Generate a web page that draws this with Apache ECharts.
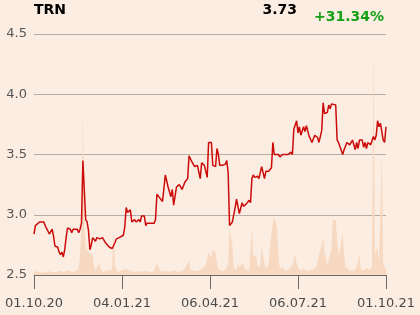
<!DOCTYPE html>
<html><head><meta charset="utf-8">
<script src="https://cdn.jsdelivr.net/npm/echarts@6/dist/echarts.min.js"></script>
<style>html,body{margin:0;padding:0;background:#fcede2}#c{width:420px;height:315px}</style>
</head><body><div id="c"></div>
<script>
// Trading-day index (0..252) and closing price
const priceDays = [0,1,4,7,8,9,11,12,13,14,15,17,18,19,20,21,22,23,24,26,27,28,29,31,32,33,34,35,36,37,38,39,40,41,42,44,45,47,49,51,52,54,56,57,58,59,61,62,64,65,66,67,69,70,72,73,75,76,77,79,80,81,83,86,87,88,90,92,94,96,98,99,100,102,104,106,108,110,111,113,115,117,119,120,122,124,125,127,128,130,131,132,133,135,137,138,139,140,142,144,145,147,149,150,152,154,155,156,157,158,160,161,163,164,165,166,168,170,171,172,175,176,178,180,182,184,185,186,188,189,190,191,193,194,195,197,199,201,203,204,206,207,208,210,211,212,213,216,217,218,219,221,222,224,225,226,228,230,231,232,233,235,236,237,238,239,241,243,244,245,246,247,248,250,251,252];
const prices = [2.84,2.91,2.94,2.94,2.91,2.90,2.84,2.83,2.88,2.82,2.74,2.73,2.69,2.67,2.69,2.65,2.71,2.81,2.89,2.88,2.85,2.88,2.88,2.88,2.85,2.88,2.93,3.45,3.21,2.96,2.94,2.87,2.71,2.75,2.81,2.78,2.81,2.80,2.81,2.77,2.77,2.73,2.72,2.73,2.77,2.80,2.81,2.82,2.83,2.90,3.06,3.02,3.04,2.94,2.96,2.94,2.96,2.94,2.99,2.99,2.91,2.93,2.93,2.93,2.96,3.17,3.14,3.11,3.33,3.23,3.15,3.21,3.08,3.23,3.25,3.21,3.27,3.30,3.49,3.44,3.40,3.41,3.30,3.43,3.41,3.31,3.60,3.60,3.41,3.40,3.55,3.50,3.41,3.41,3.42,3.45,3.35,2.91,2.94,3.06,3.13,3.01,3.10,3.07,3.09,3.12,3.10,3.30,3.33,3.31,3.32,3.30,3.40,3.35,3.30,3.36,3.36,3.39,3.60,3.50,3.50,3.48,3.50,3.50,3.50,3.52,3.50,3.71,3.78,3.68,3.73,3.66,3.73,3.69,3.74,3.65,3.60,3.66,3.64,3.60,3.70,3.93,3.84,3.85,3.91,3.88,3.92,3.91,3.62,3.60,3.60,3.50,3.54,3.60,3.60,3.58,3.62,3.54,3.60,3.55,3.62,3.62,3.56,3.60,3.55,3.60,3.58,3.65,3.62,3.66,3.78,3.73,3.76,3.62,3.60,3.73];
// Trading-day index and volume (thousands, estimated)
const volDays = [0,1,3,4,7,10,13,16,19,21,24,27,30,32,33,34,35,36,37,38,40,42,43,44,47,48,50,53,55,56,57,58,59,61,63,66,69,72,75,77,80,83,86,88,89,91,94,97,100,103,105,108,111,112,114,117,120,123,125,127,128,130,131,132,135,137,139,140,142,143,145,146,147,149,151,154,156,157,159,160,162,163,164,166,168,169,171,172,174,175,176,178,180,182,185,187,188,190,193,194,196,199,202,205,206,207,208,210,213,214,216,217,218,221,222,223,226,229,231,233,234,236,238,240,242,243,244,246,247,249,250,251,252];
const volumes = [40,60,30,50,20,40,30,30,40,30,50,30,40,60,220,450,1660,500,280,250,220,200,80,40,120,40,30,50,40,80,430,100,40,30,50,60,40,30,40,30,40,30,40,120,80,30,40,30,50,30,40,60,150,50,40,40,60,100,220,180,260,220,120,60,40,50,120,470,300,80,50,120,80,120,60,40,480,180,200,80,100,300,180,60,100,300,520,580,480,200,60,80,40,50,100,200,120,50,60,70,40,50,80,250,300,380,220,100,250,550,550,350,180,420,200,80,50,40,80,200,60,40,70,50,80,2330,200,270,120,1230,100,80,60];
const yTicks = {min: 2.5, max: 4.5, step: 0.5};
const tickLabels = ['01.10.20','04.01.21','06.04.21','06.07.21','01.10.21'];
const ticker = 'TRN';
const lastPrice = '3.73';
const change = '+31.34%';

const chart = echarts.init(document.getElementById('c'), null, {renderer:'canvas'});
const font = 'DejaVu Sans';
chart.setOption({
  backgroundColor: '#fcede2',
  animation: false,
  grid: {left: 34, right: 34, top: 34, bottom: 40},
  graphic: [
    {type:'text', left: 34, top: 3, style:{text: ticker, font: 'bold 14px "DejaVu Sans"', fill:'#000'}},
    {type:'text', right: 123, top: 3, style:{text: lastPrice, font: 'bold 14px "DejaVu Sans"', fill:'#000'}},
    {type:'text', right: 36, top: 10, style:{text: change, font: 'bold 14px "DejaVu Sans"', fill:'#14a014'}}
  ],
  xAxis: {
    type: 'value', min: 0, max: 252, interval: 63,
    axisLine: {show: true, lineStyle: {color: '#6f6a66', width: 1}},
    axisTick: {show: true, length: 14, lineStyle: {color: '#6f6a66'}},
    splitLine: {show: false},
    axisLabel: {margin: 22, color: '#4a4a4a', fontFamily: font, fontSize: 13,
      formatter: v => tickLabels[Math.round(v/63)] || ''}
  },
  yAxis: [{
    type: 'value', min: yTicks.min, max: yTicks.max, interval: yTicks.step,
    axisLine: {show: false}, axisTick: {show: false},
    splitLine: {show: true, lineStyle: {color: '#b5aca5', width: 1}},
    axisLabel: {margin: 7, color: '#555', fontFamily: font, fontSize: 13, formatter: v => v.toFixed(1)}
  }, {
    type: 'value', min: 0, max: 2410, show: false, splitLine: {show: false}
  }],
  series: [{
    type: 'line', yAxisIndex: 1, showSymbol: false, z: 1,
    data: volDays.map((d,i) => [d, volumes[i]]),
    lineStyle: {width: 0}, areaStyle: {color: '#f7d8c0', opacity: 1}
  }, {
    type: 'line', yAxisIndex: 0, showSymbol: false, z: 3,
    data: priceDays.map((d,i) => [d, prices[i]]),
    lineStyle: {color: '#cc0a0a', width: 1.5}
  }]
});
</script></body></html>
